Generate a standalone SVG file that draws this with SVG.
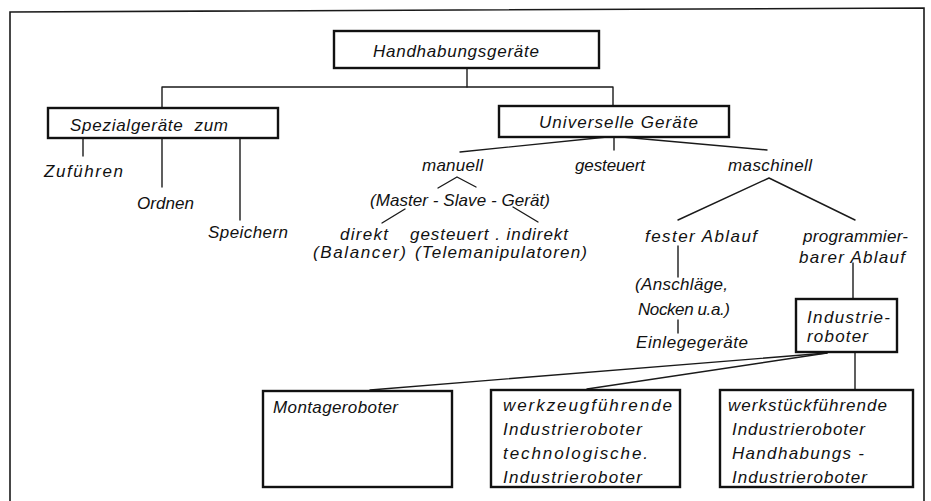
<svg xmlns="http://www.w3.org/2000/svg" width="931" height="501" viewBox="0 0 931 501">
  <style>
    .frame { fill: none; stroke: #1a1a1a; stroke-width: 1.6; }
    .box { fill: #fff; stroke: #111; stroke-width: 2.4; }
    .link { fill: none; stroke: #1a1a1a; stroke-width: 1.4; stroke-linecap: round; stroke-linejoin: round; }
    text { font-family: "Liberation Sans", Arial, sans-serif; font-style: italic; font-size: 17px; fill: #111; }
  </style>

  <rect width="931" height="501" fill="#fff"/>

  <!-- outer border, open at the bottom -->
  <polyline class="frame" points="10,501 10,12 924,8 924,501"/>

  <!-- connectors -->
  <g id="connectors">
    <!-- Handhabungsgeräte -> two main branches -->
    <polyline class="link" points="467,68 467,87"/>
    <polyline class="link" points="162,108 162,87 613,87 613,106"/>
    <!-- Spezialgeräte -> tasks -->
    <line class="link" x1="83" y1="138" x2="83" y2="156"/>
    <line class="link" x1="162" y1="138" x2="162" y2="187"/>
    <line class="link" x1="240" y1="138" x2="240" y2="220"/>
    <!-- Universelle Geräte -> control types -->
    <line class="link" x1="607" y1="137" x2="460" y2="152"/>
    <line class="link" x1="614" y1="137" x2="614" y2="150"/>
    <line class="link" x1="622" y1="137" x2="767" y2="150"/>
    <!-- manuell -> Master-Slave -->
    <polyline class="link" points="438,188 457,177 476,187"/>
    <line class="link" x1="405" y1="209" x2="382" y2="223"/>
    <line class="link" x1="513" y1="207" x2="538" y2="222"/>
    <!-- maschinell -> sequence types -->
    <polyline class="link" points="678,220 769,178 855,220"/>
    <line class="link" x1="678" y1="246" x2="678" y2="277"/>
    <line class="link" x1="678" y1="320" x2="678" y2="333"/>
    <line class="link" x1="853" y1="263" x2="853" y2="298"/>
    <!-- Industrieroboter -> robot classes -->
    <line class="link" x1="827" y1="353" x2="370" y2="390"/>
    <line class="link" x1="827" y1="353" x2="587" y2="389"/>
    <line class="link" x1="855" y1="352" x2="855" y2="389"/>
  </g>

  <g id="handhabungsgeraete">
    <rect class="box" x="334" y="31" width="265" height="37"/>
    <text x="373" y="57" textLength="166" lengthAdjust="spacing">Handhabungsgeräte</text>
  </g>

  <g id="spezialgeraete">
    <rect class="box" x="48" y="108" width="230" height="30"/>
    <text x="70" y="131" textLength="158" lengthAdjust="spacing" xml:space="preserve">Spezialgeräte  zum</text>
  </g>

  <g id="universelle-geraete">
    <rect class="box" x="499" y="106" width="230" height="31"/>
    <text x="539" y="128" textLength="159" lengthAdjust="spacing">Universelle Geräte</text>
  </g>

  <g id="zufuehren"><text x="44" y="177" textLength="79" lengthAdjust="spacing">Zuführen</text></g>
  <g id="ordnen"><text x="137" y="209" textLength="57" lengthAdjust="spacing">Ordnen</text></g>
  <g id="speichern"><text x="208" y="238" textLength="80" lengthAdjust="spacing">Speichern</text></g>

  <g id="manuell"><text x="422" y="171" textLength="61" lengthAdjust="spacing">manuell</text></g>
  <g id="gesteuert"><text x="575" y="171" textLength="70" lengthAdjust="spacing">gesteuert</text></g>
  <g id="maschinell"><text x="728" y="171" textLength="84" lengthAdjust="spacing">maschinell</text></g>

  <g id="master-slave"><text x="370" y="206" textLength="180" lengthAdjust="spacing">(Master - Slave - Gerät)</text></g>

  <g id="direkt">
    <text x="340" y="240" textLength="48" lengthAdjust="spacing">direkt</text>
    <text x="313" y="258" textLength="93" lengthAdjust="spacing">(Balancer)</text>
  </g>
  <g id="indirekt">
    <text x="410" y="240" textLength="158" lengthAdjust="spacing">gesteuert . indirekt</text>
    <text x="415" y="258" textLength="172" lengthAdjust="spacing">(Telemanipulatoren)</text>
  </g>

  <g id="fester-ablauf"><text x="645" y="242" textLength="112" lengthAdjust="spacing">fester Ablauf</text></g>
  <g id="programmierbarer-ablauf">
    <text x="803" y="242" textLength="105" lengthAdjust="spacing">programmier-</text>
    <text x="799" y="263" textLength="106" lengthAdjust="spacing">barer Ablauf</text>
  </g>

  <g id="anschlaege">
    <text x="635" y="290" textLength="93" lengthAdjust="spacing">(Anschläge,</text>
    <text x="638" y="315" textLength="92" lengthAdjust="spacing">Nocken u.a.)</text>
  </g>
  <g id="einlegegeraete"><text x="636" y="348" textLength="112" lengthAdjust="spacing">Einlegegeräte</text></g>

  <g id="industrieroboter">
    <rect class="box" x="796" y="299" width="101" height="53"/>
    <text x="807" y="323" textLength="83" lengthAdjust="spacing">Industrie-</text>
    <text x="807" y="342" textLength="61" lengthAdjust="spacing">roboter</text>
  </g>

  <g id="montageroboter">
    <rect class="box" x="263" y="391" width="189" height="96"/>
    <text x="273" y="413" textLength="125" lengthAdjust="spacing">Montageroboter</text>
  </g>

  <g id="werkzeugfuehrende">
    <rect class="box" x="491" y="390" width="189" height="97"/>
    <text x="503" y="411" textLength="169" lengthAdjust="spacing">werkzeugführende</text>
    <text x="503" y="435" textLength="139" lengthAdjust="spacing">Industrieroboter</text>
    <text x="503" y="459" textLength="145" lengthAdjust="spacing">technologische.</text>
    <text x="503" y="483" textLength="139" lengthAdjust="spacing">Industrieroboter</text>
  </g>

  <g id="werkstueckfuehrende">
    <rect class="box" x="720" y="390" width="193" height="97"/>
    <text x="728" y="411" textLength="159" lengthAdjust="spacing">werkstückführende</text>
    <text x="732" y="435" textLength="133" lengthAdjust="spacing">Industrieroboter</text>
    <text x="732" y="459" textLength="132" lengthAdjust="spacing">Handhabungs -</text>
    <text x="732" y="483" textLength="135" lengthAdjust="spacing">Industrieroboter</text>
  </g>
</svg>
